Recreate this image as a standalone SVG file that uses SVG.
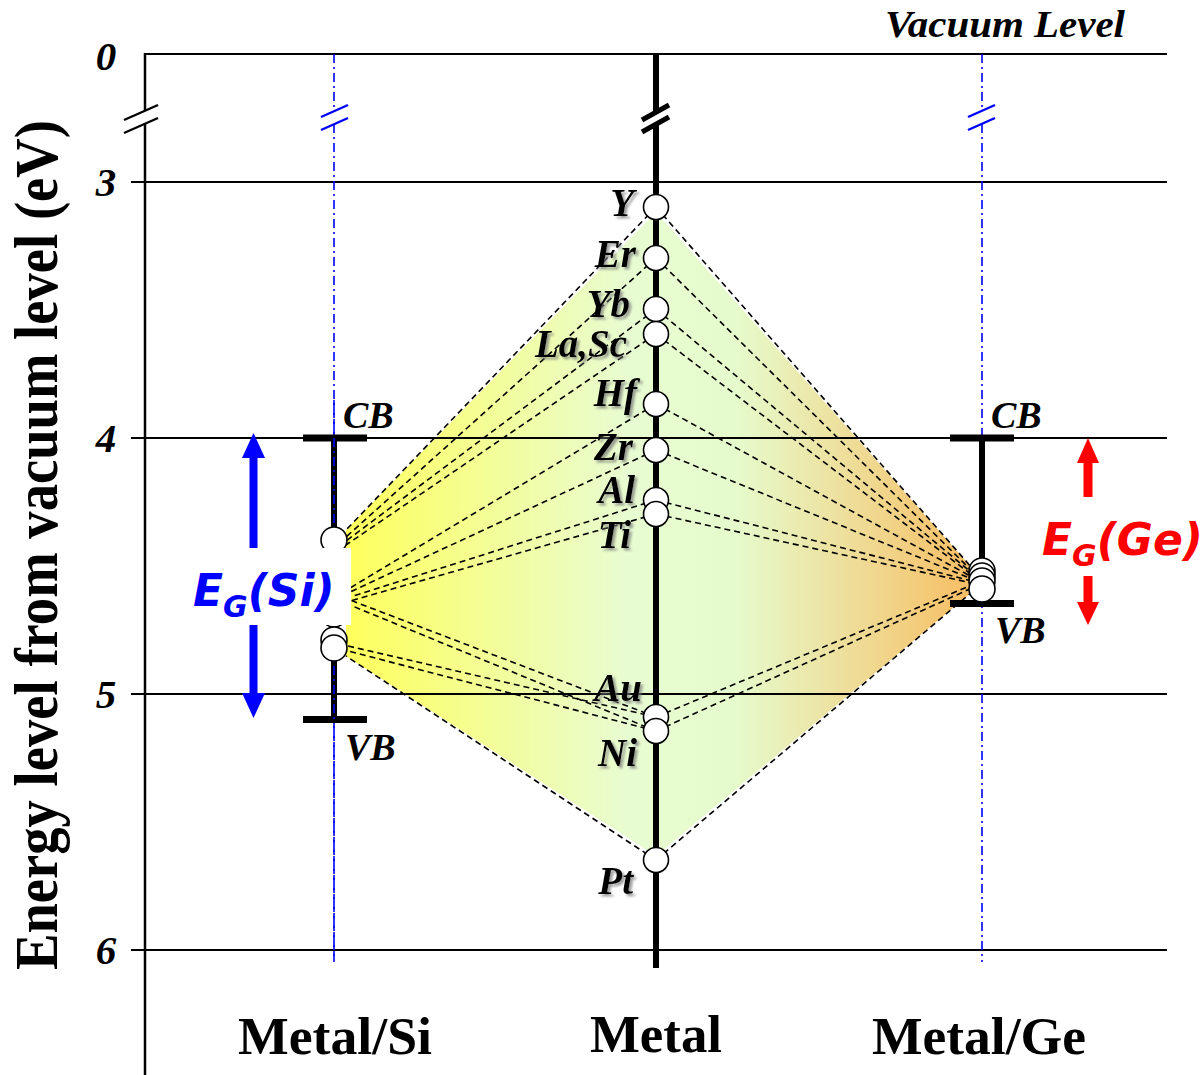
<svg xmlns="http://www.w3.org/2000/svg" width="1203" height="1075" viewBox="0 0 1203 1075">
<defs>
<linearGradient id="fillg" gradientUnits="userSpaceOnUse" x1="346" y1="0" x2="975" y2="0">
<stop offset="0" stop-color="#ffff5c"/>
<stop offset="0.45" stop-color="#e8fcd2"/>
<stop offset="0.62" stop-color="#e6fbcc"/>
<stop offset="1" stop-color="#f7bd62"/>
</linearGradient>
<filter id="sh" x="-20%" y="-20%" width="150%" height="150%">
<feDropShadow dx="2.5" dy="2.5" stdDeviation="0.8" flood-color="#777" flood-opacity="0.7"/>
</filter>
<style>
.grid{stroke:#000;stroke-width:2;fill:none}
.blue{stroke:#0000ff;stroke-width:1.6;stroke-dasharray:9,4,2,4;fill:none}
.bslash{stroke:#0000ff;stroke-width:2.4;fill:none}
.dash{stroke:#000;stroke-width:1.6;stroke-dasharray:6,4;fill:none}
.col{stroke:#000;stroke-width:6;fill:none}
.bar{stroke:#000;stroke-width:7;fill:none}
.pt{fill:#fff;stroke:#000;stroke-width:1.6}
.lbl{font-family:"Liberation Serif","Times New Roman",serif;font-weight:bold;font-style:italic;font-size:38px;fill:#000}
.ml{filter:url(#sh);text-anchor:end;font-size:39px}
.tick{font-family:"Liberation Serif","Times New Roman",serif;font-weight:bold;font-style:italic;font-size:41px;text-anchor:middle}
.cat{font-family:"Liberation Serif","Times New Roman",serif;font-weight:bold;font-size:53px;text-anchor:middle}
.eg{font-family:"DejaVu Sans","Verdana",sans-serif;font-weight:bold;font-style:italic;font-size:44px}
</style>
</defs>

<g id="fill-region">
<polygon points="656,212 346,530 346,656 656,856 972,592 972,568" fill="url(#fillg)"/>
</g>

<g id="axes">
<line class="grid" x1="145" y1="54" x2="1167" y2="54"/>
<line class="grid" x1="131" y1="182" x2="1167" y2="182"/>
<line class="grid" x1="131" y1="438" x2="1167" y2="438"/>
<line class="grid" x1="131" y1="694" x2="1167" y2="694"/>
<line class="grid" x1="131" y1="950" x2="1167" y2="950"/>
<line stroke="#000" stroke-width="2.5" x1="145" y1="53" x2="145" y2="111"/>
<line stroke="#000" stroke-width="2.5" x1="145" y1="124" x2="145" y2="1075"/>
<line stroke="#000" stroke-width="2.4" x1="124" y1="120" x2="158" y2="105"/>
<line stroke="#000" stroke-width="2.4" x1="124" y1="133" x2="158" y2="118"/>
</g>

<g id="connectors">
<line class="dash" x1="656" y1="207" x2="346" y2="530"/>
<line class="dash" x1="656" y1="258" x2="346" y2="537"/>
<line class="dash" x1="656" y1="309" x2="346" y2="541"/>
<line class="dash" x1="656" y1="334" x2="346" y2="545"/>
<line class="dash" x1="656" y1="404" x2="350" y2="588"/>
<line class="dash" x1="656" y1="450" x2="350" y2="592"/>
<line class="dash" x1="656" y1="500" x2="350" y2="597"/>
<line class="dash" x1="656" y1="514" x2="350" y2="601"/>
<line class="dash" x1="656" y1="717" x2="350" y2="600"/>
<line class="dash" x1="656" y1="731" x2="350" y2="605"/>
<line class="dash" x1="656" y1="717" x2="348" y2="646"/>
<line class="dash" x1="656" y1="731" x2="348" y2="651"/>
<line class="dash" x1="656" y1="860" x2="346" y2="656"/>

<line class="dash" x1="656" y1="207" x2="972" y2="568"/>
<line class="dash" x1="656" y1="258" x2="972" y2="571"/>
<line class="dash" x1="656" y1="309" x2="972" y2="573"/>
<line class="dash" x1="656" y1="334" x2="972" y2="575"/>
<line class="dash" x1="656" y1="404" x2="972" y2="577"/>
<line class="dash" x1="656" y1="450" x2="972" y2="579"/>
<line class="dash" x1="656" y1="500" x2="972" y2="581"/>
<line class="dash" x1="656" y1="514" x2="972" y2="583"/>
<line class="dash" x1="656" y1="717" x2="972" y2="585"/>
<line class="dash" x1="656" y1="731" x2="972" y2="588"/>
<line class="dash" x1="656" y1="860" x2="972" y2="592"/>
</g>

<g id="metal-column">
<line class="col" x1="656" y1="54" x2="656" y2="112"/>
<line class="col" x1="656" y1="124" x2="656" y2="968"/>
<line stroke="#000" stroke-width="5" x1="642" y1="120" x2="669" y2="105"/>
<line stroke="#000" stroke-width="5" x1="642" y1="132" x2="669" y2="117"/>
</g>

<g id="si-column">
<line class="blue" x1="334" y1="54" x2="334" y2="111"/>
<line class="blue" x1="334" y1="124" x2="334" y2="962"/>
<line class="bslash" x1="321" y1="117" x2="348" y2="105"/>
<line class="bslash" x1="321" y1="130" x2="348" y2="118"/>
<line class="col" x1="334" y1="438" x2="334" y2="719"/>
<line class="bar" x1="303" y1="438" x2="367" y2="438"/>
<line class="bar" x1="303" y1="719.5" x2="367" y2="719.5"/>
<line class="blue" x1="334" y1="400" x2="334" y2="962"/>
</g>

<g id="ge-column">
<line class="blue" x1="982" y1="54" x2="982" y2="111"/>
<line class="blue" x1="982" y1="124" x2="982" y2="962"/>
<line class="bslash" x1="968" y1="117" x2="995" y2="105"/>
<line class="bslash" x1="968" y1="130" x2="995" y2="118"/>
<line class="col" x1="982" y1="438" x2="982" y2="603"/>
<line class="bar" x1="950" y1="438" x2="1014" y2="438"/>
<line class="bar" x1="950" y1="603.5" x2="1014" y2="603.5"/>
</g>

<g id="metal-points">
<circle class="pt" cx="656" cy="207" r="12.5"/>
<circle class="pt" cx="656" cy="258" r="12.5"/>
<circle class="pt" cx="656" cy="309" r="12.5"/>
<circle class="pt" cx="656" cy="334" r="12.5"/>
<circle class="pt" cx="656" cy="404" r="12.5"/>
<circle class="pt" cx="656" cy="450" r="12.5"/>
<circle class="pt" cx="656" cy="500" r="12.5"/>
<circle class="pt" cx="656" cy="514" r="12.5"/>
<circle class="pt" cx="656" cy="717" r="12.5"/>
<circle class="pt" cx="656" cy="731" r="12.5"/>
<circle class="pt" cx="656" cy="860" r="12.5"/>
</g>

<g id="si-points">
<circle class="pt" cx="334" cy="540" r="13"/>
<circle class="pt" cx="334" cy="590" r="13"/>
<circle class="pt" cx="334" cy="598" r="13"/>
<circle class="pt" cx="334" cy="614" r="13"/>
<circle class="pt" cx="334" cy="640" r="13"/>
<circle class="pt" cx="334" cy="648" r="13"/>
</g>

<g id="ge-points">
<circle class="pt" cx="982" cy="571" r="13"/>
<circle class="pt" cx="982" cy="576" r="13"/>
<circle class="pt" cx="982" cy="581" r="13"/>
<circle class="pt" cx="982" cy="589" r="13"/>
</g>

<g id="eg-si">
<rect x="185" y="548" width="166" height="77" fill="#fff"/>
<line stroke="#0000ff" stroke-width="8" x1="253.5" y1="455" x2="253.5" y2="548"/>
<polygon points="253.5,433 242,458 265,458" fill="#0000ff"/>
<line stroke="#0000ff" stroke-width="8" x1="253.5" y1="625" x2="253.5" y2="696"/>
<polygon points="253.5,718 242,693 265,693" fill="#0000ff"/>
<text class="eg" x="193" y="606" fill="#0000ff">E<tspan font-size="30" dy="11">G</tspan><tspan dy="-11">(Si)</tspan></text>
</g>

<g id="eg-ge">
<line stroke="#ff0000" stroke-width="9" x1="1088" y1="460" x2="1088" y2="497"/>
<polygon points="1088,438 1077,463 1099,463" fill="#ff0000"/>
<line stroke="#ff0000" stroke-width="9" x1="1088" y1="576" x2="1088" y2="605"/>
<polygon points="1088,625 1077,602 1099,602" fill="#ff0000"/>
<text class="eg" x="1042" y="555" fill="#ff0000">E<tspan font-size="30" dy="11">G</tspan><tspan dy="-11">(Ge)</tspan></text>
</g>

<g id="metal-labels">
<text class="lbl ml" x="634" y="216">Y</text>
<text class="lbl ml" x="636" y="267">Er</text>
<text class="lbl ml" x="630" y="317">Yb</text>
<text class="lbl ml" x="627" y="357">La,Sc</text>
<text class="lbl ml" x="637" y="406">Hf</text>
<text class="lbl ml" x="633" y="460">Zr</text>
<text class="lbl ml" x="635" y="503">Al</text>
<text class="lbl ml" x="631" y="548">Ti</text>
<text class="lbl ml" x="642" y="701">Au</text>
<text class="lbl ml" x="637" y="766">Ni</text>
<text class="lbl ml" x="633" y="894">Pt</text>
</g>

<g id="band-labels">
<text class="lbl" x="343" y="428">CB</text>
<text class="lbl" x="345" y="760">VB</text>
<text class="lbl" x="991" y="428">CB</text>
<text class="lbl" x="995" y="643">VB</text>
</g>

<g id="tick-labels">
<text class="tick" x="106" y="70">0</text>
<text class="tick" x="106" y="196">3</text>
<text class="tick" x="106" y="452">4</text>
<text class="tick" x="106" y="708">5</text>
<text class="tick" x="106" y="964">6</text>
</g>

<g id="titles">
<text class="lbl" x="885" y="37" font-size="37" textLength="240" lengthAdjust="spacingAndGlyphs">Vacuum Level</text>
<text class="cat" x="335" y="1054" textLength="194" lengthAdjust="spacingAndGlyphs">Metal/Si</text>
<text class="cat" x="656" y="1052" textLength="132" lengthAdjust="spacingAndGlyphs">Metal</text>
<text class="cat" x="979" y="1054" textLength="214" lengthAdjust="spacingAndGlyphs">Metal/Ge</text>
<text font-family="Liberation Serif, Times New Roman, serif" font-weight="bold" font-size="61" text-anchor="middle" transform="translate(57,545) rotate(-90)" textLength="850" lengthAdjust="spacingAndGlyphs">Energy level from vacuum level (eV)</text>
</g>
</svg>
